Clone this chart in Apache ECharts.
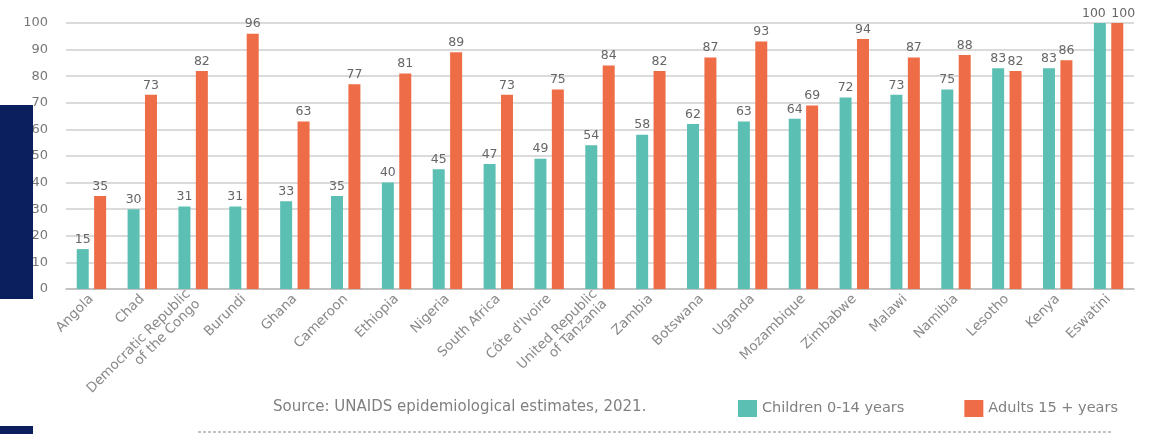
<!DOCTYPE html>
<html>
<head>
<meta charset="utf-8">
<script src="https://cdn.jsdelivr.net/npm/echarts@6/dist/echarts.min.js"></script>
<style>
html,body{margin:0;padding:0;background:#fff;}
#chart{width:1153px;height:434px;}
</style>
</head>
<body>
<div id="chart"></div>
<script>
const categories = ["Angola","Chad","Democratic Republic\nof the Congo","Burundi","Ghana","Cameroon","Ethiopia","Nigeria","South Africa","Côte d'Ivoire","United Republic\nof Tanzania","Zambia","Botswana","Uganda","Mozambique","Zimbabwe","Malawi","Namibia","Lesotho","Kenya","Eswatini"];
const children = [15,30,31,31,33,35,40,45,47,49,54,58,62,63,64,72,73,75,83,83,100];
const adults = [35,73,82,96,63,77,81,89,73,75,84,82,87,93,69,94,87,88,82,86,100];
const yTicks = {min:0, max:100, interval:10};
const seriesNames = ["Children 0-14 years","Adults 15 + years"];
const sourceText = "Source: UNAIDS epidemiological estimates, 2021.";

const FONT = "DejaVu Sans";
const chart = echarts.init(document.getElementById('chart'), null, {renderer:'canvas'});
const labelCfg = {show:true, position:'top', distance:3, color:'#666', fontSize:12.5, fontFamily:FONT};
const last = categories.length - 1;
function items(arr, dx){
  return arr.map((v,i)=> i===last ? {value:v, label:{offset:[dx,0]}} : v);
}
chart.setOption({
  animation:false,
  backgroundColor:'#fff',
  textStyle:{fontFamily:FONT},
  grid:{left:66, right:19, top:23, bottom:145, containLabel:false},
  title:{text:sourceText, left:268, top:395, textStyle:{fontSize:15, fontWeight:'normal', color:'#808080', fontFamily:FONT}},
  legend:{
    data:seriesNames, left:733, top:395, itemWidth:19, itemHeight:17, itemGap:60,
    icon:'rect',
    textStyle:{fontSize:14.5, color:'#808080', fontFamily:FONT}
  },
  xAxis:{
    type:'category', data:categories,
    axisTick:{show:false},
    axisLine:{lineStyle:{color:'#bbb', width:1.5}},
    axisLabel:{rotate:45, interval:0, color:'#8a8a8a', fontSize:13.5, fontFamily:FONT, margin:8, lineHeight:14}
  },
  yAxis:{
    type:'value', min:yTicks.min, max:yTicks.max, interval:yTicks.interval,
    axisLine:{show:false}, axisTick:{show:false},
    axisLabel:{color:'#777', fontSize:13, fontFamily:FONT, margin:18},
    splitLine:{lineStyle:{color:'#cfcfcf', width:1.5}}
  },
  series:[
    {name:seriesNames[0], type:'bar', data:items(children,-6), barWidth:12, barGap:'45%', itemStyle:{color:'#5cbfb3'}, label:labelCfg},
    {name:seriesNames[1], type:'bar', data:items(adults,6), barWidth:12, itemStyle:{color:'#ee6c46'}, label:labelCfg}
  ],
  graphic:[
    {type:'rect', left:0, top:105, shape:{width:33, height:194}, style:{fill:'#0b1f5e'}, z:100},
    {type:'rect', left:0, top:426, shape:{width:33, height:8}, style:{fill:'#0b1f5e'}, z:100},
    {type:'line', shape:{x1:198, y1:432, x2:1113, y2:432}, style:{stroke:'#888', lineWidth:1.2, lineDash:[3,2]}, z:100}
  ]
});
</script>
</body>
</html>
